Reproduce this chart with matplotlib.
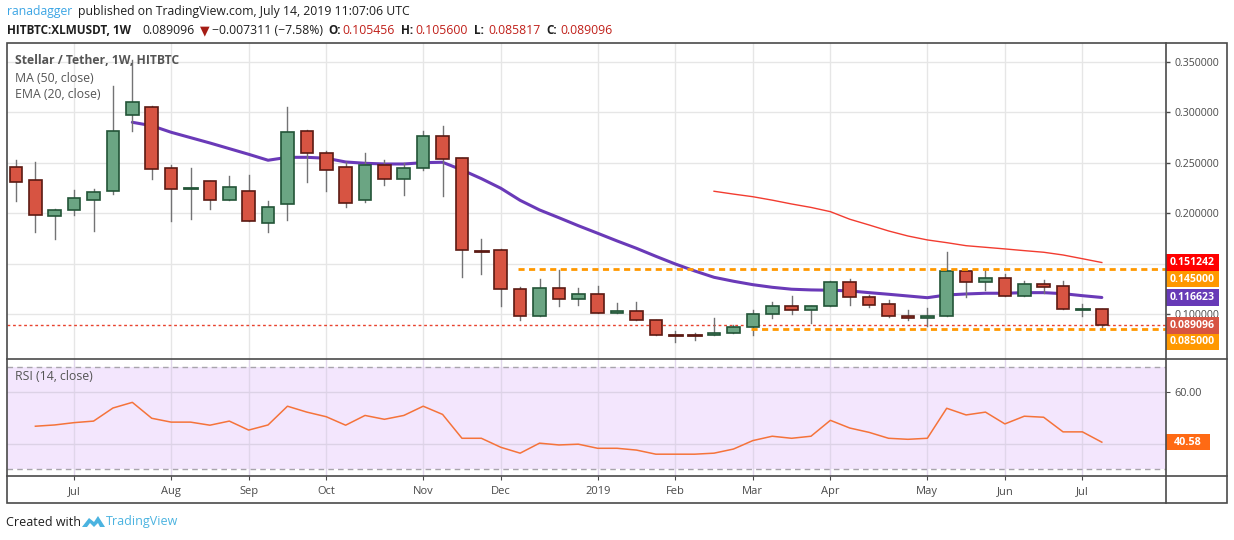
import numpy as np
import matplotlib.pyplot as plt
from matplotlib.patches import Rectangle, Polygon
from matplotlib.lines import Line2D

plt.rcParams['font.family'] = ['Open Sans', 'DejaVu Sans']

# weekly candles XLM/USDT, Jun 11 2018 .. Jul 8 2019
opens = [0.2455, 0.2327, 0.1970, 0.2030, 0.2135, 0.2224, 0.2976, 0.3050, 0.2446, 0.2250,
         0.2317, 0.2129, 0.2221, 0.1901, 0.2089, 0.2812, 0.2594, 0.2455, 0.2129, 0.2475,
         0.2337, 0.2446, 0.2762, 0.2545, 0.1632, 0.1634, 0.1248, 0.0980, 0.1257, 0.1149,
         0.1198, 0.1010, 0.1030, 0.0941, 0.0793, 0.0793, 0.0792, 0.0812, 0.0871, 0.1000,
         0.1079, 0.1040, 0.1079, 0.1317, 0.1168, 0.1099, 0.0980, 0.0960, 0.0980, 0.1426,
         0.1317, 0.1356, 0.1178, 0.1297, 0.1277, 0.1049, 0.105456]
highs = [0.2528, 0.2508, 0.2043, 0.2231, 0.2241, 0.3260, 0.3520, 0.3060, 0.2475, 0.2446,
         0.2317, 0.2369, 0.2379, 0.2125, 0.3055, 0.2825, 0.2617, 0.2508, 0.2597, 0.2525,
         0.2495, 0.2815, 0.2864, 0.2545, 0.1746, 0.1647, 0.1270, 0.1350, 0.1439, 0.1260,
         0.1280, 0.1112, 0.1122, 0.0941, 0.0838, 0.0815, 0.0963, 0.0891, 0.1043, 0.1122,
         0.1181, 0.1082, 0.1327, 0.1350, 0.1191, 0.1139, 0.1040, 0.1062, 0.1617, 0.1426,
         0.1442, 0.1396, 0.1327, 0.1340, 0.1327, 0.1102, 0.105600]
lows = [0.2125, 0.1818, 0.1749, 0.1983, 0.1828, 0.2194, 0.2818, 0.2343, 0.1927, 0.1947,
        0.2046, 0.2129, 0.1921, 0.1818, 0.1937, 0.2313, 0.2224, 0.2065, 0.2115, 0.2283,
        0.2184, 0.2432, 0.2174, 0.1372, 0.1402, 0.1085, 0.0947, 0.0980, 0.1085, 0.1095,
        0.1010, 0.1010, 0.0941, 0.0792, 0.0729, 0.0749, 0.0792, 0.0812, 0.0798, 0.0966,
        0.1006, 0.0917, 0.1079, 0.1095, 0.1075, 0.0970, 0.0947, 0.0887, 0.0980, 0.1174,
        0.1244, 0.1178, 0.1178, 0.1208, 0.1050, 0.0986, 0.085817]
closes = [0.2307, 0.1980, 0.2033, 0.2149, 0.2211, 0.2812, 0.3099, 0.2436, 0.2238, 0.2255,
          0.2129, 0.2257, 0.1921, 0.2059, 0.2802, 0.2594, 0.2426, 0.2099, 0.2475, 0.2337,
          0.2446, 0.2762, 0.2535, 0.1634, 0.1628, 0.1248, 0.0980, 0.1257, 0.1149, 0.1198,
          0.1010, 0.1030, 0.0941, 0.0792, 0.0791, 0.0791, 0.0812, 0.0871, 0.1000, 0.1079,
          0.1040, 0.1082, 0.1317, 0.1168, 0.1095, 0.0980, 0.0960, 0.0980, 0.1426, 0.1317,
          0.1356, 0.1178, 0.1297, 0.1273, 0.1050, 0.1053, 0.089096]

ema_start = 6
ema20 = [0.2901, 0.2867, 0.2802, 0.2749, 0.2696, 0.2640, 0.2584, 0.2525, 0.2554, 0.2554,
         0.2545, 0.2508, 0.2495, 0.2488, 0.2488, 0.2501, 0.2505, 0.2429, 0.2343, 0.2248,
         0.2128, 0.2033, 0.1956, 0.1877, 0.1802, 0.1726, 0.1653, 0.1574, 0.1498, 0.1429,
         0.1366, 0.1327, 0.1293, 0.1267, 0.1248, 0.1241, 0.1238, 0.1231, 0.1214, 0.1198,
         0.1181, 0.1164, 0.1191, 0.1201, 0.1208, 0.1208, 0.1214, 0.1214, 0.1204, 0.1184,
         0.116623]
ma_start = 36
ma50 = [0.2218, 0.2190, 0.2164, 0.2130, 0.2092, 0.2058, 0.2016, 0.1941, 0.1884, 0.1825,
        0.1775, 0.1736, 0.1709, 0.1679, 0.1663, 0.1647, 0.1630, 0.1614, 0.1587, 0.1550,
        0.151242]
rsi_start = 1
rsi = [46.8, 47.3, 48.2, 48.8, 53.9, 56.1, 49.9, 48.4, 48.4, 47.2,
       48.8, 45.3, 47.3, 54.6, 52.3, 50.5, 47.2, 51.0, 49.5, 51.0,
       54.6, 51.4, 42.1, 42.1, 38.6, 36.3, 40.2, 39.5, 39.8, 38.2,
       38.2, 37.5, 35.9, 35.9, 35.9, 36.3, 37.9, 41.2, 42.9, 42.1,
       42.9, 49.1, 46.1, 44.4, 42.1, 41.7, 42.1, 53.8, 51.2, 52.3,
       47.7, 50.7, 50.3, 44.6, 44.6, 40.58]

# horizontal levels drawn by the author
resistance = 0.145
support = 0.085
res_from = 26
sup_from = 38

month_idx = [3, 8, 12, 16, 21, 25, 30, 34, 38, 42, 47, 51, 55]
month_lbl = ['Jul', 'Aug', 'Sep', 'Oct', 'Nov', 'Dec', '2019', 'Feb', 'Mar', 'Apr', 'May', 'Jun', 'Jul']
price_ticks = [0.10, 0.15, 0.20, 0.25, 0.30, 0.35]

W, H = 1234, 540
fig = plt.figure(figsize=(W / 100, H / 100), dpi=100)


def fx(x):
    return x / W


def fy(y):
    return 1 - y / H


left, right = 6.7, 1166
top, mid, bot, outer_bot, outer_right = 43, 359, 476, 503, 1227
ax = fig.add_axes([fx(left), fy(mid), fx(right - left), (mid - top) / H])
ar = fig.add_axes([fx(left), fy(bot), fx(right - left), (bot - mid) / H], sharex=ax)

xmin, xmax = -0.48, 59.31
grid_c = '#e6e6e6'
txt_c = '#4a4a4a'
green, green_e = '#6ba583', '#225437'
red, red_e = '#d75442', '#5b1a13'

# price pane
ax.set_xlim(xmin, xmax)
ax.set_ylim(0.0557, 0.3686)
for m in month_idx:
    ax.axvline(m, color=grid_c, lw=1, zorder=0)
    ar.axvline(m, color='#e0d6ea', lw=1, zorder=1)
for t in price_ticks:
    ax.axhline(t, color=grid_c, lw=1, zorder=0)

n = len(closes)
xs = np.arange(n)
bw = 0.65
for i in range(n):
    o, h, l, c = opens[i], highs[i], lows[i], closes[i]
    up = c >= o
    ax.plot([i, i], [l, h], color='#737375', lw=1, zorder=3)
    if abs(c - o) < 0.0008:
        ax.plot([i - bw / 2, i + bw / 2], [(o + c) / 2] * 2, color=green_e if up else red_e, lw=2, zorder=4)
    else:
        ax.add_patch(Rectangle((i - bw / 2, min(o, c)), bw, abs(c - o),
                               facecolor=green if up else red, edgecolor=green_e if up else red_e,
                               lw=1.2, zorder=4))

ax.plot(xs[ema_start:], ema20, color='#6a3ab8', lw=2.2, zorder=2, solid_capstyle='round')
ax.plot(xs[ma_start:], ma50, color='#f23c30', lw=1, zorder=2)
ax.axhline(closes[-1], color='#e8432f', lw=1, ls=(0, (2, 2)), zorder=2)
ax.plot([res_from - 0.1, xmax], [resistance] * 2, color='#ff9800', lw=2, ls=(0, (2.2, 1.6)), zorder=5)
ax.plot([sup_from - 0.1, xmax], [support] * 2, color='#ff9800', lw=2, ls=(0, (2.2, 1.6)), zorder=5)

ax.yaxis.tick_right()
ax.set_yticks(price_ticks)
# the 0.15 label sits under the price boxes on the scale
ax.set_yticklabels(['' if abs(t - 0.15) < 1e-9 else '%.6f' % t for t in price_ticks])
ax.tick_params(axis='y', colors=txt_c, labelcolor=txt_c, length=3, width=1, labelsize=7.6, pad=3)
ax.tick_params(axis='x', length=0, labelbottom=False)
for s in ax.spines.values():
    s.set_visible(False)

# price labels on the scale, stacked so they do not overlap
lab_vals = [ma50[-1], resistance, ema20[-1], closes[-1], support]
lab_cols = ['#ff0000', '#ff9800', '#673ab7', '#d75442', '#ff9800']
px_per_unit = (mid - top) / (0.3686 - 0.0557)
bh = 16.6 / px_per_unit
prev = None
for v, col in zip(lab_vals, lab_cols):
    yc = v if prev is None else min(v, prev - bh)
    prev = yc
    ax.add_patch(Rectangle((1.0, yc - bh / 2), 53 / (right - left), bh,
                           transform=ax.get_yaxis_transform(), clip_on=False,
                           facecolor=col, edgecolor='none', zorder=10))
    ax.text(1.0 + 26.5 / (right - left), yc, '%.6f' % v, transform=ax.get_yaxis_transform(),
            ha='center', va='center', color='white', fontsize=7.6, fontweight='bold',
            zorder=11, clip_on=False)

lx = fx(15 - left) / fx(right - left)
ax.text(lx, 1 - (60.7 - top) / (mid - top), 'Stellar / Tether, 1W, HITBTC',
        transform=ax.transAxes, fontsize=8.7, fontweight='bold', color='#555555', va='center', zorder=12)
ax.text(lx, 1 - (78 - top) / (mid - top), 'MA (50, close)',
        transform=ax.transAxes, fontsize=8.8, color='#555555', va='center', zorder=12)
ax.text(lx, 1 - (94.3 - top) / (mid - top), 'EMA (20, close)',
        transform=ax.transAxes, fontsize=8.8, color='#555555', va='center', zorder=12)

# RSI pane
ar.set_ylim(27.4, 73.0)
ar.axhspan(30, 70, color='#f3e6fd', zorder=0, lw=0)
ar.axhline(70, color='#a8a4ac', lw=1, ls=(0, (4, 3)), zorder=1)
ar.axhline(30, color='#a8a4ac', lw=1, ls=(0, (4, 3)), zorder=1)
ar.axhline(60, color='#dcd2e6', lw=1, zorder=1)
ar.axhline(40, color='#dcd2e6', lw=1, zorder=1)
ar.plot(xs[rsi_start:], rsi, color='#f5733a', lw=1.1, zorder=3)
ar.yaxis.tick_right()
ar.set_yticks([60])
ar.set_yticklabels(['60.00'])
ar.tick_params(axis='y', colors=txt_c, labelcolor=txt_c, length=3, labelsize=7.8, pad=3)
ar.set_xticks(month_idx)
ar.set_xticklabels(month_lbl)
ar.tick_params(axis='x', colors=txt_c, labelcolor=txt_c, length=3, labelsize=8, pad=4)
for s in ar.spines.values():
    s.set_visible(False)
ar.text(lx, 1 - (376.7 - mid) / (bot - mid), 'RSI (14, close)',
        transform=ar.transAxes, fontsize=8.8, color='#555555', va='center')
ar.add_patch(Rectangle((1.0, rsi[-1] - 3.2), 43.5 / (right - left), 6.4,
                       transform=ar.get_yaxis_transform(), clip_on=False,
                       facecolor='#ff6a14', edgecolor='none', zorder=10))
ar.text(1.0 + 21.7 / (right - left), rsi[-1], '%.2f' % rsi[-1], transform=ar.get_yaxis_transform(),
        ha='center', va='center', color='white', fontsize=7.8, fontweight='bold', zorder=11, clip_on=False)

# frame
fc = '#4a4a4a'
fig.add_artist(Rectangle((fx(left), fy(outer_bot)), fx(outer_right - left), (outer_bot - top) / H,
                         transform=fig.transFigure, fill=False, edgecolor=fc, lw=1.2))
fig.add_artist(Line2D([fx(right)] * 2, [fy(top), fy(outer_bot)], color=fc, lw=1.2))
fig.add_artist(Line2D([fx(left), fx(outer_right)], [fy(mid)] * 2, color=fc, lw=1.2))
fig.add_artist(Line2D([fx(left), fx(outer_right)], [fy(bot)] * 2, color=fc, lw=1.2))

# header
hs = 8.8
fig.text(fx(7), fy(12), 'ranadagger', color='#3ca5e4', fontsize=hs, va='center')
fig.text(fx(78), fy(12), 'published on TradingView.com, July 14, 2019 11:07:06 UTC',
         color='#1e1e1e', fontsize=hs, va='center')
fig.text(fx(7), fy(30), 'HITBTC:XLMUSDT, 1W', color='#1e1e1e', fontsize=8.5, fontweight='bold', va='center')
fig.text(fx(142), fy(30), '0.089096', color='#1e1e1e', fontsize=hs, va='center')
fig.text(fx(200), fy(30.5), '▼', color='#a51c14', fontsize=9, va='center', family=['DejaVu Sans'])
fig.text(fx(212), fy(30), '\u22120.007311 (\u22127.58%)', color='#1e1e1e', fontsize=hs, va='center')
for xk, k, v in [(328, 'O:', '0.105456'), (401, 'H:', '0.105600'), (474, 'L:', '0.085817'), (546, 'C:', '0.089096')]:
    fig.text(fx(xk), fy(30), k, color='#1e1e1e', fontsize=8.5, fontweight='bold', va='center')
    fig.text(fx(xk + 14), fy(30), v, color='#c0201a', fontsize=hs, va='center')

# footer
fig.text(fx(6), fy(522), 'Created with', color='#1e1e1e', fontsize=9, va='center')
logo = [(82, 527), (89, 518), (94, 522), (98, 516), (105, 527), (100, 527), (98, 523), (94, 527), (90, 523), (87, 527)]
fig.add_artist(Polygon([(fx(a), fy(b)) for a, b in logo], closed=True, transform=fig.transFigure,
                       facecolor='#4bb3e0', edgecolor='none'))
fig.text(fx(106), fy(522), 'TradingView', color='#4bb3e0', fontsize=9, va='center')

fig.savefig('out.png', dpi=100, facecolor='white')
